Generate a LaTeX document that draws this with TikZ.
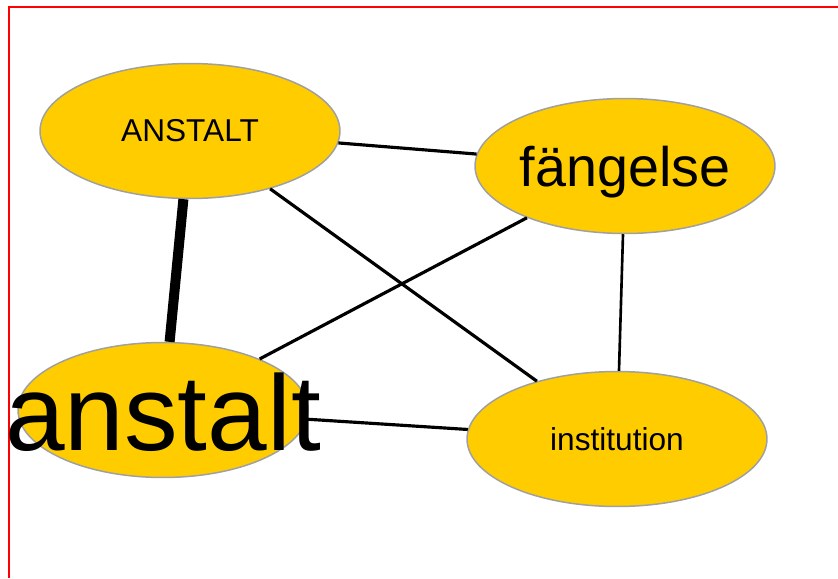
\documentclass[tikz,border=0pt]{standalone}
\usepackage{fontspec}
\setmainfont{Liberation Sans}
\usetikzlibrary{shapes.geometric}
\definecolor{termgelb}{RGB}{255,204,0}
\definecolor{termrand}{RGB}{160,160,160}
\begin{document}
\begin{tikzpicture}[x=0.02cm, y=-0.02cm,
  term/.style={ellipse, draw=termrand, line width=0.85pt, fill=termgelb,
    inner sep=0pt, minimum width=6cm, minimum height=2.7cm},
  link/.style={line width=1.8pt},
  fetlink/.style={line width=5.7pt}]
  \useasboundingbox (0,0) rectangle (838,578);
  \draw[red, line width=0.9pt] (9,578) -- (9,7) -- (838,7);
  % begreppen
  \node[term, label={[font=\fontsize{18}{20}\selectfont]center:ANSTALT}] (versal) at (190,131) {};
  \node[term, label={[font=\fontsize{31.7}{34}\selectfont, yshift=-3.4pt]center:fängelse}] (fangelse) at (625,166) {};
  \node[term, minimum width=5.8cm, label={[font=\fontsize{61}{64}\selectfont, yshift=-1.5pt]center:anstalt}] (anstalt) at (163,410) {};
  \node[term, label={[font=\fontsize{18}{20}\selectfont]center:institution}] (institution) at (617,439) {};
  % kopplingar
  \draw[fetlink] (versal) -- (anstalt);
  \draw[link] (versal) -- (fangelse);
  \draw[link] (versal) -- (institution);
  \draw[link] (fangelse) -- (anstalt);
  \draw[link, line width=1.5pt] (fangelse) -- (institution);
  \draw[link] (anstalt) -- (institution);
\end{tikzpicture}
\end{document}
